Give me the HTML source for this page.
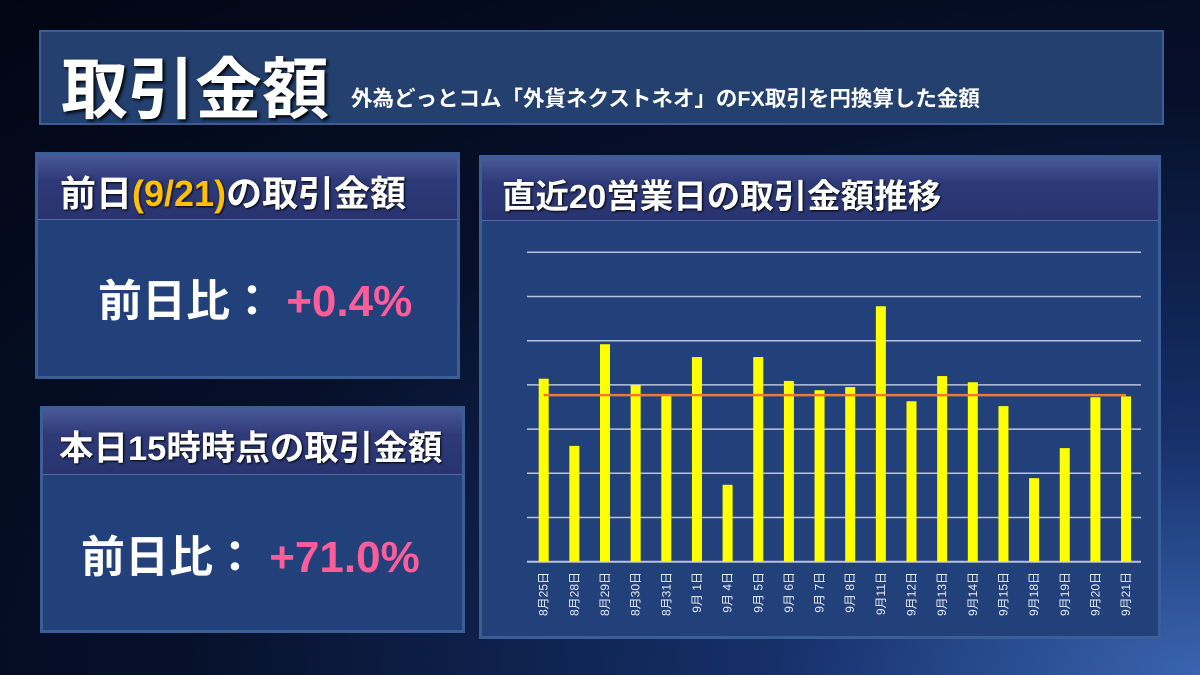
<!DOCTYPE html>
<html><head><meta charset="utf-8"><style>
body{margin:0;width:1200px;height:675px;overflow:hidden;background:radial-gradient(ellipse at 100% 100%,#3a64b0 0%,#16306a 25%,#06102a 60%,#020614 100%);font-family:"Liberation Sans","Noto Sans CJK JP",sans-serif;position:relative}
.box{position:absolute;background:#22407a;border:3px solid #3a5f98;box-sizing:border-box}
.hdr{position:absolute;left:0;right:0;top:0;background:linear-gradient(#4a5898,#2e3a78 40%,#283470);border-bottom:1px solid #5a62a8;color:#fff;font-weight:bold;box-sizing:border-box;text-shadow:1px 1px 2px #000;white-space:nowrap}
.big{position:absolute;color:#fff;font-size:44px;font-weight:bold;white-space:nowrap}
.pk{color:#ff5c9a}
</style></head><body>
<div class="box" style="left:39px;top:30px;width:1125px;height:95px;border:2px solid #3a5f98;background:#23406f">
<span style="position:absolute;left:20px;top:4px;font-size:67px;font-weight:bold;color:#fff;text-shadow:2px 2px 3px #000">取引金額</span>
<span style="position:absolute;left:310px;top:50px;font-size:21.5px;font-weight:bold;color:#fff;white-space:nowrap">外為どっとコム「外貨ネクストネオ」のFX取引を円換算した金額</span>
</div>
<div class="box" style="left:35px;top:152px;width:425px;height:227px">
<div class="hdr" style="height:65px;font-size:36px;padding:10px 0 0 22px">前日<span style="color:#ffc000">(9/21)</span>の取引金額</div>
<div class="big" style="left:60px;top:110px">前日比： <span class="pk">+0.4%</span></div>
</div>
<div class="box" style="left:40px;top:406px;width:425px;height:227px">
<div class="hdr" style="height:66px;font-size:34.5px;padding:11px 0 0 16px">本日15時時点の取引金額</div>
<div class="big" style="left:38px;top:112px">前日比： <span class="pk">+71.0%</span></div>
</div>
<div class="box" style="left:479px;top:155px;width:682px;height:484px">
<div class="hdr" style="height:63px;font-size:33.5px;padding:11px 0 0 20px">直近20営業日の取引金額推移</div>
</div>
<svg id="chart" width="1200" height="675" style="position:absolute;left:0;top:0"></svg>
<script>
const categories=["8月25日","8月28日","8月29日","8月30日","8月31日","9月 1日","9月 4日","9月 5日","9月 6日","9月 7日","9月 8日","9月11日","9月12日","9月13日","9月14日","9月15日","9月18日","9月19日","9月20日","9月21日"];
const values=[4.14,2.62,4.92,4.00,3.77,4.63,1.74,4.63,4.09,3.88,3.95,5.78,3.63,4.20,4.06,3.52,1.89,2.57,3.72,3.74];
const average=[3.77];
const gridTicks=[1,2,3,4,5,6,7];
const ns="http://www.w3.org/2000/svg",svg=document.getElementById('chart');
const y0=561.7,yU=44.2,x0=543.7,step=30.65;
const Y=v=>y0-v*yU, X=i=>x0+i*step;
function mk(t,a){const e=document.createElementNS(ns,t);for(const k in a)e.setAttribute(k,a[k]);svg.appendChild(e);return e;}
gridTicks.forEach(t=>{const l=mk('line',{x1:527,x2:1141,y1:Y(t),y2:Y(t),stroke:'#b8c4dc','stroke-width':1.5});

});
const ax=mk('line',{x1:527,x2:1141,y1:y0,y2:y0,stroke:'#b8c4dc','stroke-width':2});


values.forEach((v,i)=>{const r=mk('rect',{x:X(i)-5,y:Y(v),width:10,height:v*yU,fill:'#ffff00'});

});
const al=mk('line',{x1:X(0),x2:X(values.length-1),y1:Y(average[0]),y2:Y(average[0]),stroke:'#f07830','stroke-width':2.5});


categories.forEach((c,i)=>{const t=mk('text',{x:0,y:0,transform:`translate(${X(i)+4},572) rotate(-90)`,'text-anchor':'end',fill:'#e8ecf4','font-size':'12'});
t.textContent=c;

});
</script>
</body></html>
